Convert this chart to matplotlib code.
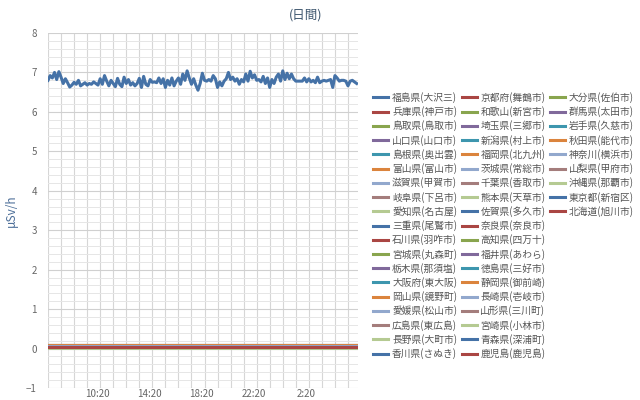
import matplotlib
matplotlib.use('Agg')
import matplotlib.pyplot as plt
from matplotlib.lines import Line2D
from matplotlib.ticker import MultipleLocator
import numpy as np

plt.rcParams['font.family'] = ['Noto Sans CJK JP', 'DejaVu Sans']

# 観測地点 (凡例の順)
stations = [
    '福島県(大沢三)', '兵庫県(神戸市)', '鳥取県(鳥取市)', '山口県(山口市)', '島根県(奥出雲)',
    '富山県(富山市)', '滋賀県(甲賀市)', '岐阜県(下呂市)', '愛知県(名古屋)', '三重県(尾鷲市)',
    '石川県(羽咋市)', '宮城県(丸森町)', '栃木県(那須塩)', '大阪府(東大阪)', '岡山県(鏡野町)',
    '愛媛県(松山市)', '広島県(東広島)', '長野県(大町市)', '香川県(さぬき)',
    '京都府(舞鶴市)', '和歌山(新宮市)', '埼玉県(三郷市)', '新潟県(村上市)', '福岡県(北九州)',
    '茨城県(常総市)', '千葉県(香取市)', '熊本県(天草市)', '佐賀県(多久市)', '奈良県(奈良市)',
    '高知県(四万十)', '福井県(あわら)', '徳島県(三好市)', '静岡県(御前崎)', '長崎県(壱岐市)',
    '山形県(三川町)', '宮崎県(小林市)', '青森県(深浦町)', '鹿児島(鹿児島)',
    '大分県(佐伯市)', '群馬県(太田市)', '岩手県(久慈市)', '秋田県(能代市)', '神奈川(横浜市)',
    '山梨県(甲府市)', '沖縄県(那覇市)', '東京都(新宿区)', '北海道(旭川市)',
]

colors = ['#4572A7', '#AA4643', '#89A54E', '#80699B', '#3D96AE',
          '#DB843D', '#92A8CD', '#A47D7C', '#B5CA92']

# 福島県(大沢三) 10分値 (μSv/h)
fukushima = [
    6.80, 6.92, 6.86, 7.00, 6.82, 7.02, 6.88, 6.72, 6.84, 6.74,
    6.63, 6.68, 6.75, 6.70, 6.80, 6.66, 6.70, 6.74, 6.68, 6.72,
    6.70, 6.76, 6.72, 6.68, 6.84, 6.70, 6.92, 6.78, 6.66, 6.80,
    6.72, 6.64, 6.85, 6.70, 6.64, 6.88, 6.72, 6.82, 6.68, 6.74,
    6.66, 6.72, 6.85, 6.62, 6.90, 6.70, 6.66, 6.82, 6.75, 6.76,
    6.74, 6.86, 6.72, 6.84, 6.62, 6.80, 6.68, 6.86, 6.66, 6.78,
    6.86, 6.70, 6.96, 6.80, 7.04, 6.86, 6.70, 6.84, 6.68, 6.55,
    6.72, 6.98, 6.80, 6.78, 6.82, 6.78, 6.92, 6.84, 6.62, 6.76,
    6.66, 6.78, 6.84, 7.00, 6.82, 6.88, 6.78, 6.84, 6.70, 6.82,
    6.76, 6.96, 6.78, 7.03, 6.86, 6.94, 6.80, 6.82, 6.76, 6.90,
    6.72, 6.86, 6.62, 6.82, 6.72, 6.88, 6.96, 6.78, 7.04, 6.82,
    6.98, 6.84, 6.96, 6.84, 6.78, 6.78, 6.78, 6.78, 6.86, 6.76,
    6.84, 6.76, 6.80, 6.74, 6.88, 6.74, 6.78, 6.80, 6.78, 6.80,
    6.82, 6.62, 6.92, 6.86, 6.78, 6.80, 6.80, 6.78, 6.66, 6.78,
    6.80, 6.76, 6.72,
]

# 他の地点 (ほぼ一定、μSv/h)
others = [
    0.05, 0.04, 0.06, 0.09, 0.06, 0.03, 0.06, 0.07, 0.04, 0.05,
    0.06, 0.06, 0.08, 0.05, 0.04, 0.05, 0.04, 0.06, 0.10, 0.04,
    0.05, 0.07, 0.06, 0.04, 0.05, 0.05, 0.04, 0.03, 0.04, 0.06,
    0.05, 0.08, 0.04, 0.04, 0.04, 0.05, 0.03, 0.03, 0.04, 0.05,
    0.04, 0.07, 0.04, 0.02, 0.05, 0.03,
]

tick_pos = [3.8, 7.8, 11.8, 15.8, 19.8]
tick_labels = ['10:20', '14:20', '18:20', '22:20', '2:20']

hours = np.arange(len(fukushima)) / 6.0

fig = plt.figure(figsize=(6.4, 4.0), dpi=100)
ax = fig.add_axes([0.075, 0.03, 0.484, 0.8875])

handles = []
h, = ax.plot(hours, fukushima, color=colors[0], lw=2.2, label=stations[0])
handles.append(h)
for i, lv in enumerate(others):
    h, = ax.plot(hours, np.full(len(hours), lv), color=colors[(i + 1) % 9],
                 lw=2.2, label=stations[i + 1])
    handles.append(h)

ax.set_xlim(0, 23.75)
ax.set_ylim(-1, 8)
ax.yaxis.set_major_locator(MultipleLocator(1))
ax.yaxis.set_minor_locator(MultipleLocator(0.2))
ax.set_xticks(tick_pos)
ax.set_xticklabels(tick_labels)
ax.set_xticks(np.arange(0, 24, 1), minor=True)
ax.grid(False)
ax.grid(True, which='minor', axis='y', color='#e6e6e6', lw=0.7)
ax.grid(True, which='minor', axis='x', color='#d6d6d6', lw=0.8)
ax.grid(True, which='major', axis='y', color='#d0d0d0', lw=0.8)
ax.set_axisbelow(True)
for s in ax.spines.values():
    s.set_visible(False)
ax.tick_params(which='both', length=0, labelsize=7, colors='#666666')
ax.tick_params(axis='x', pad=1)
ax.tick_params(axis='y', pad=8)

ax.set_ylabel('μSv/h', color='#4d6f99', fontsize=8.5, labelpad=6)

fig.text(0.477, 0.962, '(日間)', ha='center', va='center', fontsize=9, color='#3E576F')

# 凡例: 3列目の空きを埋めて 19,19,9 に揃える
blank = Line2D([], [], color='none')
leg_handles = handles + [blank] * 10
leg_labels = stations + [''] * 10
leg = fig.legend(leg_handles, leg_labels, ncol=3, loc='upper left',
                 bbox_to_anchor=(0.577, 0.78), frameon=False, fontsize=7,
                 handlelength=1.55, handletextpad=0.4, columnspacing=0.45,
                 labelspacing=0.34, borderaxespad=0)
for t in leg.get_texts():
    t.set_color('#555555')

fig.savefig('out.png', dpi=100)
